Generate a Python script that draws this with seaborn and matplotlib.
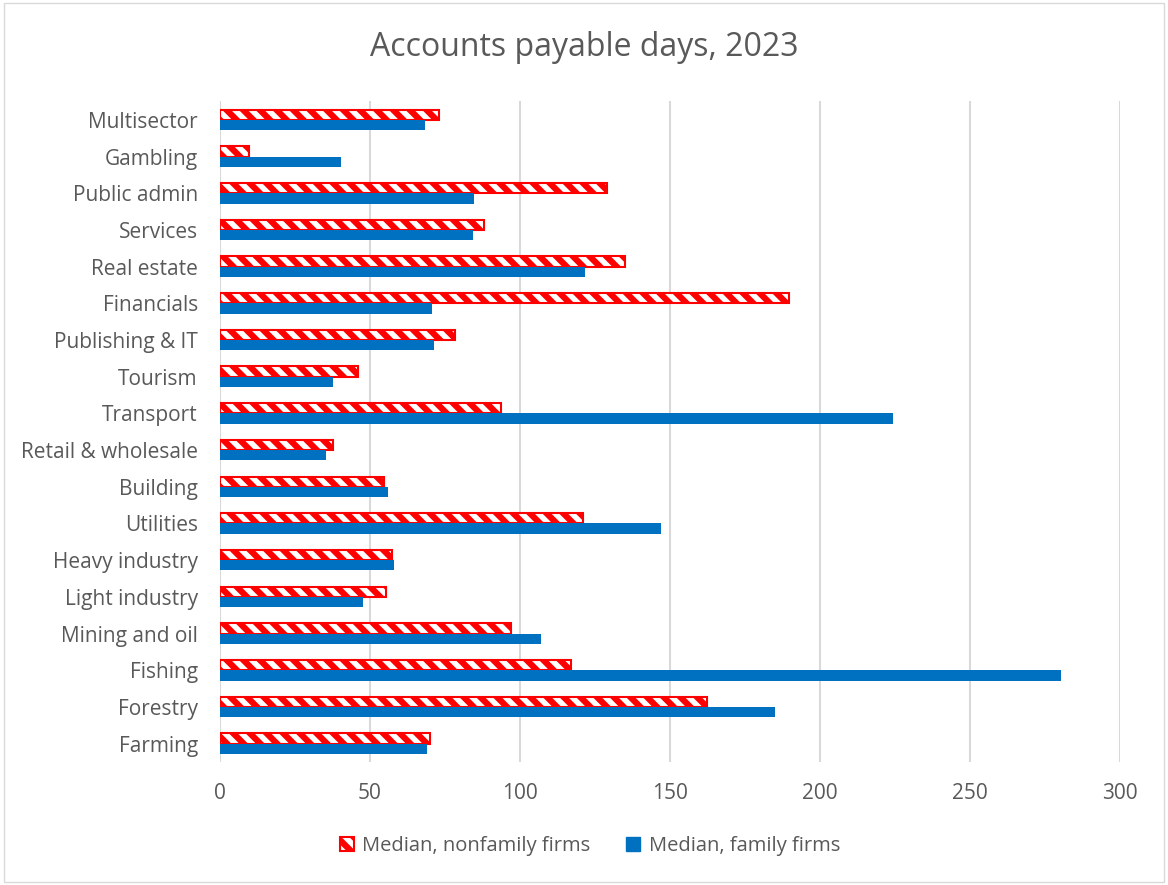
import pandas as pd
import matplotlib.pyplot as plt
import matplotlib.patches as mpatches
import seaborn as sns

# ── Data ──────────────────────────────────────────────────────────────────────
sectors = ['Multisector', 'Gambling', 'Public admin', 'Services', 'Real estate',
           'Financials', 'Publishing & IT', 'Tourism', 'Transport',
           'Retail & wholesale', 'Building', 'Utilities', 'Heavy industry',
           'Light industry', 'Mining and oil', 'Fishing', 'Forestry', 'Farming']
nonfamily = [73.1, 9.8, 129.1, 88.0, 135.1, 189.7, 78.4, 46.0, 93.8,
             37.8, 54.8, 121.1, 57.2, 55.3, 96.9, 117.0, 162.3, 70.1]
family = [68.3, 40.4, 84.8, 84.2, 121.8, 70.6, 71.4, 37.8, 224.4,
          35.4, 55.9, 147.1, 57.9, 47.6, 107.1, 280.3, 185.0, 69.0]
series_names = ['Median, nonfamily firms', 'Median, family firms']
x_ticks = [0, 50, 100, 150, 200, 250, 300]

df = pd.DataFrame({
    'sector': sectors * 2,
    'days': nonfamily + family,
    'series': [series_names[0]] * len(sectors) + [series_names[1]] * len(sectors),
})

# ── Style ─────────────────────────────────────────────────────────────────────
sns.set_style('white')
plt.rcParams['font.family'] = ['Open Sans', 'DejaVu Sans']
plt.rcParams['hatch.linewidth'] = 4.5
TXT = '#595959'
RED, BLUE = '#FF0000', '#0070C0'

fig = plt.figure(figsize=(11.68, 8.85), dpi=100)
ax = fig.add_axes([220 / 1168, 1 - 762 / 885, 900 / 1168, 660.5 / 885])

sns.barplot(data=df, y='sector', x='days', hue='series', orient='h',
            order=sectors, hue_order=series_names,
            palette=[RED, BLUE], width=0.56, gap=0, legend=False, ax=ax)

n = len(sectors)
for i, bar in enumerate(ax.patches[:2 * n]):
    if i < n:
        bar.set_facecolor('white')
        bar.set_edgecolor(RED)
        bar.set_hatch('\\\\')
        bar.set_linewidth(1.5)
    else:
        bar.set_facecolor(BLUE)
        bar.set_edgecolor(BLUE)
        bar.set_linewidth(0)

ax.set_xlim(0, 300)
ax.set_xticks(x_ticks)
ax.set_xlabel('')
ax.set_ylabel('')
ax.grid(axis='x', color='#D9D9D9', linewidth=1.5)
ax.set_axisbelow(True)
for s in ax.spines.values():
    s.set_visible(False)
ax.tick_params(axis='both', length=0, labelsize=15, labelcolor=TXT)
ax.tick_params(axis='y', pad=16)
ax.tick_params(axis='x', pad=15)

fig.text(0.5, 1 - 48 / 885, 'Accounts payable days, 2023',
         ha='center', va='center', fontsize=23, color=TXT)

handles = [mpatches.Patch(facecolor='white', edgecolor=RED, hatch='\\\\',
                          linewidth=1.5, label=series_names[0]),
           mpatches.Patch(facecolor=BLUE, edgecolor=BLUE, label=series_names[1])]
fig.legend(handles=handles, loc='center', bbox_to_anchor=(0.505, 1 - 846 / 885),
           ncol=2, frameon=False, fontsize=14.5, labelcolor=TXT,
           handlelength=0.7, handleheight=0.7, handletextpad=0.4,
           columnspacing=1.8)

# light border around the whole chart
fig.patches.append(mpatches.Rectangle((0.003, 0.003), 0.994, 0.994,
                                      transform=fig.transFigure, fill=False,
                                      edgecolor='#D9D9D9', linewidth=1))

plt.savefig('out.png', dpi=100, facecolor='white')
plt.close()
